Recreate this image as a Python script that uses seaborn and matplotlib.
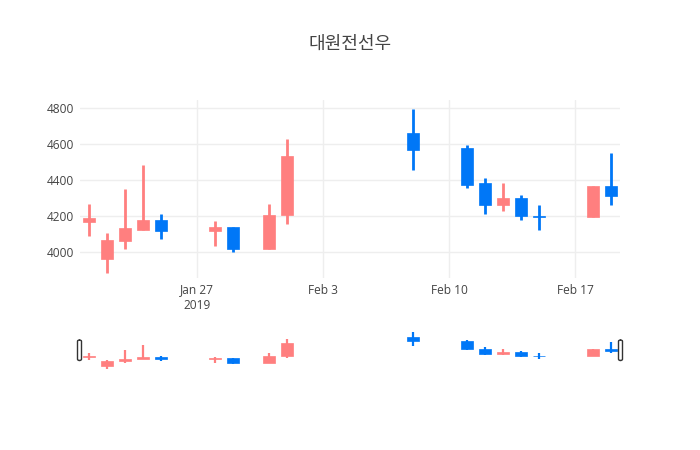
import pandas as pd
import numpy as np
import matplotlib
matplotlib.use("Agg")
import matplotlib.pyplot as plt
import matplotlib.dates as mdates
from matplotlib.patches import FancyBboxPatch
import seaborn as sns

# daily prices
dates = ["2019-01-21", "2019-01-22", "2019-01-23", "2019-01-24", "2019-01-25",
         "2019-01-28", "2019-01-29", "2019-01-31", "2019-02-01", "2019-02-08",
         "2019-02-11", "2019-02-12", "2019-02-13", "2019-02-14", "2019-02-15",
         "2019-02-18", "2019-02-19"]
open_ = [4170, 3960, 4065, 4125, 4180, 4120, 4140, 4020, 4205, 4665,
         4580, 4385, 4260, 4300, 4205, 4195, 4370]
high = [4270, 4105, 4350, 4485, 4210, 4175, 4140, 4270, 4630, 4795,
        4595, 4415, 4385, 4320, 4265, 4370, 4550]
low = [4090, 3885, 4020, 4125, 4075, 4035, 4000, 4020, 4155, 4455,
       4355, 4215, 4230, 4180, 4125, 4195, 4265]
close = [4190, 4070, 4135, 4180, 4120, 4140, 4020, 4205, 4535, 4570,
         4375, 4260, 4300, 4200, 4200, 4370, 4315]

title = "대원전선우"
xtick_dates = ["2019-01-27", "2019-02-03", "2019-02-10", "2019-02-17"]
xtick_labels = ["Jan 27\n2019", "Feb 3", "Feb 10", "Feb 17"]
ytick_values = [4000, 4200, 4400, 4600, 4800]

up_color = "#ff7f7f"
down_color = "#0077f7"

df = pd.DataFrame({"date": pd.to_datetime(dates), "open": open_, "high": high,
                   "low": low, "close": close})
df["x"] = mdates.date2num(df["date"])
df["color"] = np.where(df["close"] >= df["open"], up_color, down_color)

sns.set_theme(style="whitegrid")
plt.rcParams["font.family"] = ["Open Sans", "Noto Sans CJK KR", "DejaVu Sans"]

fig = plt.figure(figsize=(7, 4.5), dpi=100)
ax = fig.add_axes([80 / 700, 1 - 278 / 450, 540 / 700, 178 / 450])
ax_rs = fig.add_axes([80 / 700, 1 - 370 / 450, 540 / 700, 40.5 / 450])

xmin = mdates.date2num(pd.Timestamp("2019-01-20 12:00"))
xmax = mdates.date2num(pd.Timestamp("2019-02-19 12:00"))


def draw_candles(a, wick_lw):
    bottoms = np.minimum(df["open"], df["close"])
    heights = (df["open"] - df["close"]).abs().clip(lower=6)
    a.vlines(df["x"], df["low"], df["high"], colors=df["color"], lw=wick_lw, zorder=2)
    a.bar(df["x"], heights, bottom=bottoms - np.where(heights == 6, 3, 0),
          width=0.62, color=df["color"], edgecolor=df["color"], lw=0.5, zorder=3)


draw_candles(ax, 2)
ax.set_xlim(xmin, xmax)
ax.set_ylim(3857, 4846)
ax.set_xticks(mdates.date2num(pd.to_datetime(xtick_dates)))
ax.set_xticklabels(xtick_labels)
ax.set_yticks(ytick_values)
ax.grid(True, color="#eeeeee", lw=1)
for s in ax.spines.values():
    s.set_visible(False)
ax.tick_params(axis="both", colors="#444444", labelsize=8.6, length=0, pad=4)
ax.set_facecolor("white")

draw_candles(ax_rs, 1.6)
ax_rs.set_xlim(xmin, xmax)
ax_rs.set_ylim(3850, 4860)
ax_rs.axis("off")

# range slider grabbers
for xp in (79.5 / 700, 620.5 / 700):
    fig.patches.append(FancyBboxPatch((xp - 2 / 700, 1 - 360.5 / 450), 4 / 700, 20.5 / 450,
                                      boxstyle="round,pad=0,rounding_size=0.003",
                                      transform=fig.transFigure, facecolor="white",
                                      edgecolor="#333333", lw=1))

fig.text(0.5, 1 - 44 / 450, title, ha="center", va="center", fontsize=13, color="#444444")

fig.savefig("out.png", dpi=100)
